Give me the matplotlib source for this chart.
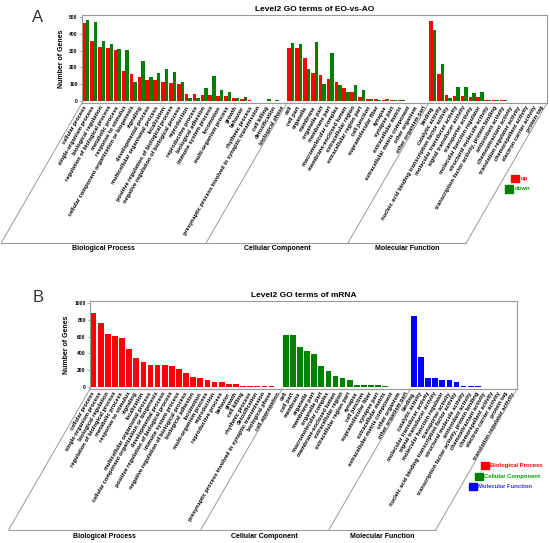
import numpy as np
import matplotlib
matplotlib.use('Agg')
import matplotlib.pyplot as plt
from matplotlib.lines import Line2D
from matplotlib.patches import Rectangle

plt.rcParams['font.family'] = ['Liberation Sans', 'DejaVu Sans']

# ---------------- Panel A data ----------------
a_bp_terms = ["cellular process", "single-organism process", "biological regulation",
              "regulation of biological process", "metabolic process", "response to stimulus",
              "cellular component organization or biogenesis", "signaling", "developmental process",
              "multicellular organismal process", "localization",
              "positive regulation of biological process", "negative regulation of biological process",
              "reproduction", "reproductive process", "biological adhesion", "immune system process",
              "locomotion", "multi-organism process", "growth", "behavior", "rhythmic process",
              "presynaptic process involved in synaptic transmission", "cell killing",
              "detoxification", "biological phase"]
a_bp_up = [464, 360, 322, 314, 304, 180, 158, 140, 126, 122, 116, 110, 100,
           40, 40, 36, 36, 32, 30, 16, 12, 4, 2, 0, 0, 0]
a_bp_down = [484, 470, 360, 342, 312, 304, 116, 236, 140, 164, 190, 174, 116,
             18, 18, 78, 146, 68, 56, 16, 22, 2, 2, 10, 4, 1]

a_cc_terms = ["cell", "cell part", "organelle", "membrane", "organelle part", "membrane part",
              "macromolecular complex", "membrane-enclosed lumen", "extracellular region",
              "extracellular region part", "cell junction", "supramolecular fiber", "synapse",
              "synapse part", "extracellular matrix", "extracellular matrix component",
              "other organism", "other organism part"]
a_cc_up = [318, 318, 254, 164, 152, 132, 112, 78, 52, 24, 12, 10, 8, 8, 6, 1, 0, 0]
a_cc_down = [344, 340, 190, 350, 102, 284, 96, 52, 98, 68, 14, 8, 14, 8, 8, 1, 1, 1]

a_mf_terms = ["binding", "catalytic activity", "nucleic acid binding transcription factor activity",
              "molecular transducer activity", "signal transducer activity", "transporter activity",
              "molecular function regulator", "structural molecule activity",
              "transcription factor activity, protein binding", "antioxidant activity",
              "chemoattractant activity", "translation regulator activity",
              "chemorepellent activity", "electron carrier activity", "protein tag"]
a_mf_up = [474, 158, 36, 32, 30, 26, 24, 8, 6, 4, 2, 1, 1, 1, 0]
a_mf_down = [420, 222, 16, 82, 82, 48, 56, 8, 4, 6, 1, 2, 1, 1, 1]

# ---------------- Panel B data ----------------
b_bp_terms = ["cellular process", "single-organism process", "biological regulation",
              "regulation of biological process", "metabolic process", "response to stimulus",
              "signaling", "localization", "multicellular organismal process",
              "cellular component organization or biogenesis", "developmental process",
              "positive regulation of biological process", "immune system process",
              "negative regulation of biological process", "biological adhesion", "locomotion",
              "multi-organism process", "reproduction", "reproductive process", "behavior",
              "growth", "cell killing", "rhythmic process", "detoxification",
              "presynaptic process involved in synaptic transmission", "biological phase",
              "cell aggregation"]
b_bp_vals = [878, 768, 630, 610, 588, 452, 348, 294, 264, 258, 258, 246, 216,
             163, 115, 103, 79, 56, 56, 36, 32, 16, 16, 16, 12, 6, 2]

b_cc_terms = ["cell", "cell part", "membrane", "organelle", "membrane part", "organelle part",
              "macromolecular complex", "membrane-enclosed lumen", "extracellular region",
              "extracellular region part", "synapse", "cell junction", "supramolecular fiber",
              "synapse part", "extracellular matrix", "extracellular matrix component",
              "other organism", "other organism part"]
b_cc_vals = [625, 625, 478, 428, 396, 254, 195, 127, 111, 87, 24, 22, 20, 20, 16, 4, 1, 1]

b_mf_terms = ["binding", "catalytic activity", "molecular transducer activity",
              "signal transducer activity", "molecular function regulator", "transporter activity",
              "nucleic acid binding transcription factor activity", "structural molecule activity",
              "antioxidant activity", "transcription factor activity, protein binding",
              "chemoattractant activity", "chemorepellent activity", "electron carrier activity",
              "protein tag", "translation regulator activity"]
b_mf_vals = [845, 360, 110, 110, 79, 79, 60, 14, 12, 12, 3, 2, 1, 1, 1]

group_names = ["Biological Process", "Cellular Component", "Molecular Function"]

RED = '#FF0000'
GREEN = '#008000'
BLUE = '#0000FF'
GRAY = '#999999'

W, H = 550, 543
fig = plt.figure(figsize=(W / 100, H / 100), dpi=100)


def fig_axes(left, top, right, bottom):
    return fig.add_axes([left / W, 1 - bottom / H, (right - left) / W, (bottom - top) / H])


def style_axes(ax, title, yticks):
    for s in ax.spines.values():
        s.set_color(GRAY)
        s.set_linewidth(0.8)
    ax.set_yticks(yticks)
    ax.set_yticklabels([str(v) for v in yticks], fontsize=3.6, fontweight='bold')
    ax.tick_params(axis='y', length=2, width=0.5, color=GRAY, pad=1)
    ax.tick_params(axis='x', length=0, pad=2.5)
    ax.set_ylabel('Number of Genes', fontsize=5, fontweight='bold', labelpad=3)
    ax.set_title(title, fontsize=6, fontweight='bold', pad=3)


def set_terms(ax, terms):
    ax.set_xticks(np.arange(len(terms)))
    ax.set_xticklabels(terms, rotation=60, ha='right', va='center',
                       rotation_mode='anchor', fontsize=4.1, fontweight='bold')


def frame(ax, div_x, bottom_px, label_px):
    inv = fig.transFigure.inverted()
    ymin = ax.get_ylim()[0]
    yb = H - bottom_px
    tops, bots = [], []
    for x in div_x:
        p0 = ax.transData.transform((x, ymin))
        x1 = p0[0] - (p0[1] - yb) / np.tan(np.radians(60))
        tops.append(p0)
        bots.append((x1, yb))
    for p0, p1 in zip(tops, bots):
        a = inv.transform(p0)
        b = inv.transform(p1)
        fig.add_artist(Line2D([a[0], b[0]], [a[1], b[1]], color=GRAY, lw=0.7))
    a = inv.transform(bots[0])
    b = inv.transform(bots[-1])
    fig.add_artist(Line2D([a[0], b[0]], [a[1], b[1]], color=GRAY, lw=0.7))
    for i, name in enumerate(group_names):
        cx = (bots[i][0] + bots[i + 1][0]) / 2
        fig.text(cx / W, 1 - label_px / H, name, ha='center', va='center',
                 fontsize=5, fontweight='bold')


# ---------------- Panel A ----------------
axA = fig_axes(82, 15, 547, 103)
termsA = a_bp_terms + a_cc_terms + a_mf_terms
upA = a_bp_up + a_cc_up + a_mf_up
downA = a_bp_down + a_cc_down + a_mf_down
xA = np.arange(len(termsA))
axA.bar(xA - 0.225, upA, width=0.45, color=RED, linewidth=0)
axA.bar(xA + 0.225, downA, width=0.45, color=GREEN, linewidth=0)
axA.set_xlim(-0.5, len(termsA) - 0.5)
axA.set_ylim(-12, 512)
style_axes(axA, 'Level2 GO terms of EO-vs-AO', [0, 100, 200, 300, 400, 500])
set_terms(axA, termsA)
nbA, ncA = len(a_bp_terms), len(a_cc_terms)
frame(axA, [-0.5, nbA - 0.5, nbA + ncA - 0.5, len(termsA) - 0.5], 243, 249)

fig.text(38 / W, 1 - 17 / H, 'A', fontsize=12, ha='center', va='center', color='#333333')

# legend A
fig.add_artist(Rectangle((511 / W, 1 - 182 / H), 7.5 / W, 7.5 / H, color=RED))
fig.text(520.5 / W, 1 - 178.5 / H, 'up', color=RED, fontsize=4.3, fontweight='bold', va='center')
fig.add_artist(Rectangle((505 / W, 1 - 192.5 / H), 7.5 / W, 7.5 / H, color=GREEN))
fig.text(514.5 / W, 1 - 189 / H, 'down', color='#00A000', fontsize=4.3, fontweight='bold', va='center')

# ---------------- Panel B ----------------
axB = fig_axes(90, 301, 517, 389)
termsB = b_bp_terms + b_cc_terms + b_mf_terms
valsB = b_bp_vals + b_cc_vals + b_mf_vals
colsB = [RED] * len(b_bp_terms) + [GREEN] * len(b_cc_terms) + [BLUE] * len(b_mf_terms)
xB = np.arange(len(termsB))
axB.bar(xB, valsB, width=0.8, color=colsB, linewidth=0)
axB.set_xlim(-0.5, len(termsB) - 0.5)
axB.set_ylim(-24, 1027)
style_axes(axB, 'Level2 GO terms of mRNA', [0, 200, 400, 600, 800, 1000])
set_terms(axB, termsB)
nbB, ncB = len(b_bp_terms), len(b_cc_terms)
frame(axB, [-0.5, nbB - 0.5, nbB + ncB - 0.5, len(termsB) - 0.5], 530, 536)

fig.text(38 / W, 1 - 298 / H, 'B', fontsize=12, ha='center', va='center', color='#333333')

# legend B
leg = [(481, 469, RED, 'Biological Process', RED),
       (475, 480, GREEN, 'Cellular Component', '#00A000'),
       (469, 490, BLUE, 'Molecular Function', '#3333FF')]
for lx, ly, c, t, tc in leg:
    fig.add_artist(Rectangle((lx / W, 1 - ly / H), 7.5 / W, 7.5 / H, color=c))
    fig.text((lx + 9.5) / W, 1 - (ly - 3.7) / H, t, color=tc, fontsize=4.2,
             fontweight='bold', va='center')

fig.savefig('out.png', dpi=100)
